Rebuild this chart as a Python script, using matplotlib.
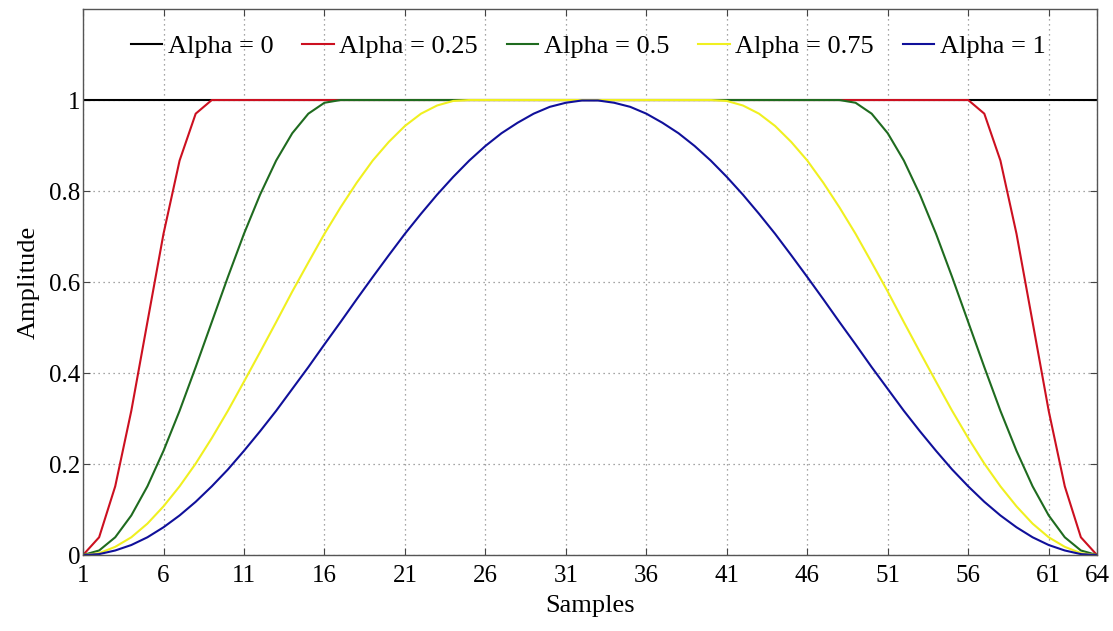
import matplotlib.pyplot as plt

# sample index 1..64
samples = list(range(1, 65))

# (tapered-cosine windows, N = 64)
alpha_0 = [1.0, 1.0, 1.0, 1.0, 1.0, 1.0, 1.0, 1.0, 1.0, 1.0, 1.0, 1.0, 1.0, 1.0, 1.0, 1.0,
           1.0, 1.0, 1.0, 1.0, 1.0, 1.0, 1.0, 1.0, 1.0, 1.0, 1.0, 1.0, 1.0, 1.0, 1.0, 1.0,
           1.0, 1.0, 1.0, 1.0, 1.0, 1.0, 1.0, 1.0, 1.0, 1.0, 1.0, 1.0, 1.0, 1.0, 1.0, 1.0,
           1.0, 1.0, 1.0, 1.0, 1.0, 1.0, 1.0, 1.0, 1.0, 1.0, 1.0, 1.0, 1.0, 1.0, 1.0, 1.0]

alpha_025 = [0.0, 0.039, 0.151, 0.317, 0.512, 0.706, 0.867, 0.970,
             1.0, 1.0, 1.0, 1.0, 1.0, 1.0, 1.0, 1.0, 1.0, 1.0, 1.0, 1.0, 1.0, 1.0, 1.0, 1.0,
             1.0, 1.0, 1.0, 1.0, 1.0, 1.0, 1.0, 1.0, 1.0, 1.0, 1.0, 1.0, 1.0, 1.0, 1.0, 1.0,
             1.0, 1.0, 1.0, 1.0, 1.0, 1.0, 1.0, 1.0, 1.0, 1.0, 1.0, 1.0, 1.0, 1.0, 1.0, 1.0,
             0.970, 0.867, 0.706, 0.512, 0.317, 0.151, 0.039, 0.0]

alpha_05 = [0.0, 0.010, 0.039, 0.087, 0.151, 0.229, 0.317, 0.413,
            0.512, 0.611, 0.706, 0.792, 0.867, 0.927, 0.970, 0.994,
            1.0, 1.0, 1.0, 1.0, 1.0, 1.0, 1.0, 1.0, 1.0, 1.0, 1.0, 1.0, 1.0, 1.0, 1.0, 1.0,
            1.0, 1.0, 1.0, 1.0, 1.0, 1.0, 1.0, 1.0, 1.0, 1.0, 1.0, 1.0, 1.0, 1.0, 1.0, 1.0,
            0.994, 0.970, 0.927, 0.867, 0.792, 0.706, 0.611, 0.512,
            0.413, 0.317, 0.229, 0.151, 0.087, 0.039, 0.010, 0.0]

alpha_075 = [0.0, 0.004, 0.018, 0.039, 0.069, 0.107, 0.151, 0.201,
             0.257, 0.317, 0.381, 0.446, 0.512, 0.579, 0.643, 0.706,
             0.764, 0.818, 0.867, 0.908, 0.943, 0.970, 0.988, 0.998,
             1.0, 1.0, 1.0, 1.0, 1.0, 1.0, 1.0, 1.0, 1.0, 1.0, 1.0, 1.0, 1.0, 1.0, 1.0, 1.0,
             0.998, 0.988, 0.970, 0.943, 0.908, 0.867, 0.818, 0.764,
             0.706, 0.643, 0.579, 0.512, 0.446, 0.381, 0.317, 0.257,
             0.201, 0.151, 0.107, 0.069, 0.039, 0.018, 0.004, 0.0]

alpha_1 = [0.0, 0.002, 0.010, 0.022, 0.039, 0.061, 0.087, 0.117,
           0.151, 0.188, 0.229, 0.272, 0.317, 0.365, 0.413, 0.463,
           0.512, 0.562, 0.611, 0.659, 0.706, 0.750, 0.792, 0.831,
           0.867, 0.899, 0.927, 0.950, 0.970, 0.985, 0.994, 0.999,
           0.999, 0.994, 0.985, 0.970, 0.950, 0.927, 0.899, 0.867,
           0.831, 0.792, 0.750, 0.706, 0.659, 0.611, 0.562, 0.512,
           0.463, 0.413, 0.365, 0.317, 0.272, 0.229, 0.188, 0.151,
           0.117, 0.087, 0.061, 0.039, 0.022, 0.010, 0.002, 0.0]

series = [alpha_0, alpha_025, alpha_05, alpha_075, alpha_1]
labels = ['Alpha = 0', 'Alpha = 0.25', 'Alpha = 0.5', 'Alpha = 0.75', 'Alpha = 1']
colors = ['#000000', '#cc1020', '#1f6b1f', '#f0f020', '#10109a']

xticks = [1, 6, 11, 16, 21, 26, 31, 36, 41, 46, 51, 56, 61, 64]
yticks = [0, 0.2, 0.4, 0.6, 0.8, 1]
ytick_labels = ['0', '0.2', '0.4', '0.6', '0.8', '1']

plt.rcParams['font.family'] = ['Liberation Serif', 'DejaVu Serif']

fig = plt.figure(figsize=(11.13, 6.31), dpi=100)
ax = fig.add_axes([0.0746, 0.1204, 0.911, 0.8653])

for y, lab, c in zip(series, labels, colors):
    ax.plot(samples, y, color=c, linewidth=1.5, label=lab)

ax.set_xlim(1, 64)
ax.set_ylim(0, 1.2)
ax.set_xticks(xticks)
ax.set_yticks(yticks)
ax.set_yticklabels(ytick_labels)
ax.tick_params(direction='in', top=True, right=True, labelsize=18, length=5,
               color='#444444')
ax.tick_params(axis='x', pad=7)
ax.tick_params(axis='y', pad=2)
for s in ax.spines.values():
    s.set_color('#555555')
    s.set_linewidth(1.0)

ax.grid(True, linestyle=(0, (1, 3)), color='#888888', linewidth=0.9)

ax.set_xlabel('Samples', fontsize=19, labelpad=6)
ax.set_ylabel('Amplitude', fontsize=19, labelpad=7)

ax.legend(ncol=5, loc='center', bbox_to_anchor=(0.498, 0.932), frameon=False,
          fontsize=19, handlelength=1.2, handletextpad=0.2, columnspacing=1.1)

fig.savefig('out.png', dpi=100)
